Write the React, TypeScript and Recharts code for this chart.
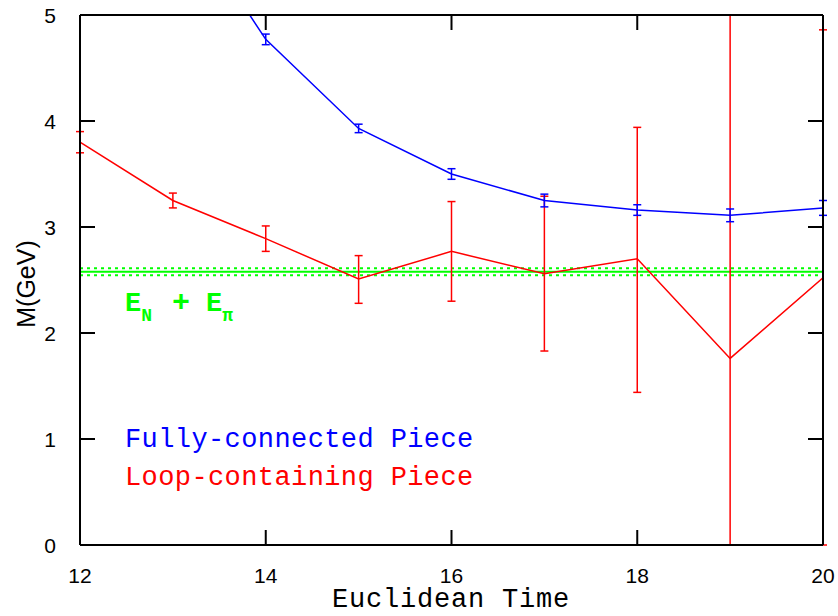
import { LineChart, Line, XAxis, YAxis, ErrorBar, ReferenceLine } from 'recharts';

// Euclidean time slices
const times = [12, 13, 14, 15, 16, 17, 18, 19, 20];

// Fully-connected piece (blue); t=13 lies above the frame
const fullyConnected = [null, 6.1, 4.77, 3.93, 3.5, 3.25, 3.16, 3.11, 3.18];
const fullyErr = [0, 0.05, 0.05, 0.04, 0.05, 0.06, 0.05, 0.06, 0.07];

// Loop-containing piece (red), errors as [down, up]
const loopContaining = [3.8, 3.25, 2.89, 2.51, 2.77, 2.56, 2.7, 1.76, 2.52];
const loopErr = [
  [0.1, 0.1], [0.07, 0.07], [0.12, 0.12], [0.23, 0.22], [0.47, 0.47],
  [0.73, 0.73], [1.26, 1.24], [1.76, 3.24], [2.52, 2.34],
];

// E_N + E_pi band
const threshold = 2.578;
const thresholdErr = 0.034;

const xTicks = [12, 14, 16, 18, 20];
const yTicks = [0, 1, 2, 3, 4, 5];
const xDomain = [12, 20];
const yDomain = [0, 5];

const data = times.map((t, i) => ({
  t,
  full: fullyConnected[i],
  fullErr: fullyErr[i],
  loop: loopContaining[i],
  loopErr: loopErr[i],
}));

const W = 838;
const H = 616;
const margin = { left: 80, right: 15, top: 15, bottom: 71 };
const plotW = W - margin.left - margin.right;
const plotH = H - margin.top - margin.bottom;
const px = (v: number) => margin.left + ((v - xDomain[0]) / (xDomain[1] - xDomain[0])) * plotW;
const py = (v: number) => margin.top + ((yDomain[1] - v) / (yDomain[1] - yDomain[0])) * plotH;
const innerX = xTicks.filter((v) => v > xDomain[0] && v < xDomain[1]);
const innerY = yTicks.filter((v) => v > yDomain[0] && v < yDomain[1]);
const TICK = 15;

const tickFont = '"Liberation Sans", Arial, sans-serif';
const monoFont = '"Liberation Mono", "Courier New", monospace';
const frame = { stroke: '#000', strokeWidth: 2 };

const BottomTick = (props: any) => {
  const { x, y, payload } = props;
  return (
    <text x={x} y={y + 38} textAnchor="middle" fontFamily={tickFont} fontSize={21} fill="#000">
      {payload.value}
    </text>
  );
};

const LeftTick = (props: any) => {
  const { x, y, payload } = props;
  return (
    <text x={x - 24} y={y + 8} textAnchor="end" fontFamily={tickFont} fontSize={21} fill="#000">
      {payload.value}
    </text>
  );
};

export default function App() {
  return (
    <div style={{ position: 'absolute', left: 0, top: 0, width: W, height: H, background: '#fff' }}>
      <LineChart width={W} height={H} data={data} margin={{ top: 0, right: 0, bottom: 0, left: 0 }}>
        <XAxis
          dataKey="t"
          type="number"
          domain={xDomain}
          ticks={xTicks}
          height={margin.bottom}
          tickSize={0}
          tickMargin={0}
          tickLine={false}
          tick={<BottomTick />}
          axisLine={frame}
          allowDataOverflow
        />
        <XAxis
          xAxisId="top"
          dataKey="t"
          type="number"
          orientation="top"
          domain={xDomain}
          height={margin.top}
          tick={false}
          tickLine={false}
          axisLine={frame}
        />
        <YAxis
          type="number"
          domain={yDomain}
          ticks={yTicks}
          width={margin.left}
          tickSize={0}
          tickMargin={0}
          tickLine={false}
          tick={<LeftTick />}
          axisLine={frame}
          allowDataOverflow
        />
        <YAxis
          yAxisId="right"
          orientation="right"
          type="number"
          domain={yDomain}
          width={margin.right}
          tick={false}
          tickLine={false}
          axisLine={frame}
        />
        <ReferenceLine y={threshold} stroke="#00ff00" strokeWidth={2} />
        <ReferenceLine y={threshold + thresholdErr} stroke="#00ff00" strokeWidth={2} strokeDasharray="3 4" />
        <ReferenceLine y={threshold - thresholdErr} stroke="#00ff00" strokeWidth={2} strokeDasharray="3 4" />
        <Line
          dataKey="loop"
          stroke="#ff0000"
          strokeWidth={1.5}
          dot={false}
          type="linear"
          isAnimationActive={false}
        >
          <ErrorBar dataKey="loopErr" direction="y" width={4} stroke="#ff0000" strokeWidth={1.5} isAnimationActive={false} />
        </Line>
        <Line
          dataKey="full"
          stroke="#0000ff"
          strokeWidth={1.5}
          dot={false}
          type="linear"
          isAnimationActive={false}
        >
          <ErrorBar dataKey="fullErr" direction="y" width={4} stroke="#0000ff" strokeWidth={1.5} isAnimationActive={false} />
        </Line>
      </LineChart>
      <svg
        width={W}
        height={H}
        style={{ position: 'absolute', left: 0, top: 0, pointerEvents: 'none' }}
      >
        {/* inward frame ticks */}
        <g stroke="#000" strokeWidth={2}>
          {innerX.map((v) => (
            <g key={`x${v}`}>
              <line x1={px(v)} x2={px(v)} y1={margin.top} y2={margin.top + TICK} />
              <line x1={px(v)} x2={px(v)} y1={H - margin.bottom} y2={H - margin.bottom - TICK} />
            </g>
          ))}
          {innerY.map((v) => (
            <g key={`y${v}`}>
              <line x1={margin.left} x2={margin.left + TICK} y1={py(v)} y2={py(v)} />
              <line x1={W - margin.right} x2={W - margin.right - TICK} y1={py(v)} y2={py(v)} />
            </g>
          ))}
        </g>
        <text x={125} y={311} fontFamily={monoFont} fontSize={27} fontWeight="bold" fill="#00ff00">
          E<tspan fontSize={18} dy={10}>N</tspan>
          <tspan dy={-10} dx={20} fontSize={30}>+</tspan>
          <tspan dx={16}>E</tspan>
          <tspan fontSize={18} dy={10}>π</tspan>
        </text>
        <text x={125} y={447} fontFamily={monoFont} fontSize={27} fill="#0000ff" letterSpacing={0.4}>
          Fully-connected Piece
        </text>
        <text x={125} y={485} fontFamily={monoFont} fontSize={27} fill="#ff0000" letterSpacing={0.4}>
          Loop-containing Piece
        </text>
        <text x={451} y={607} textAnchor="middle" fontFamily={monoFont} fontSize={27} fill="#000" letterSpacing={0.8}>
          Euclidean Time
        </text>
        <text
          x={35}
          y={284}
          textAnchor="middle"
          fontFamily={tickFont}
          fontSize={25}
          fill="#000"
          transform="rotate(-90 35 284)"
        >
          M(GeV)
        </text>
      </svg>
    </div>
  );
}
